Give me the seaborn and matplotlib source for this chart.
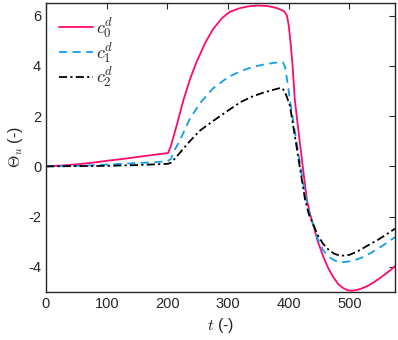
import matplotlib
matplotlib.use('Agg')
import matplotlib.pyplot as plt
import seaborn as sns

# values
t_c0 = [0, 25, 50, 75, 100, 125, 150, 175, 201, 205, 215, 226, 237, 248, 262, 275, 290, 303,
        320, 335, 348, 365, 380, 392, 397, 400, 403, 406, 410, 415, 420, 425, 430, 435, 440,
        448, 457, 465, 473, 482, 490, 497, 504, 512, 520, 530, 539, 550, 560, 568, 575]
y_c0 = [0, 0.03, 0.08, 0.14, 0.22, 0.29, 0.37, 0.45, 0.53, 0.75, 1.6, 2.6, 3.45, 4.15, 4.9, 5.45,
        5.9, 6.15, 6.3, 6.37, 6.4, 6.38, 6.3, 6.18, 6.0, 5.6, 4.9, 4.1, 2.63, 1.6, 0.6, -0.4,
        -1.35, -1.9, -2.3, -3.0, -3.6, -4.05, -4.4, -4.7, -4.85, -4.93, -4.95, -4.92, -4.86,
        -4.76, -4.63, -4.45, -4.27, -4.12, -3.97]

t_c1 = [0, 25, 50, 75, 100, 125, 150, 175, 200, 206, 212, 221, 237, 255, 275, 300, 320, 340,
        360, 380, 390, 394, 399, 402, 408, 414, 420, 424, 430, 435, 440, 448, 457, 466, 475,
        483, 490, 498, 507, 515, 523, 535, 545, 555, 565, 575]
y_c1 = [0, 0.005, 0.02, 0.04, 0.07, 0.1, 0.13, 0.16, 0.2, 0.3, 0.65, 1.05, 1.9, 2.55, 3.1, 3.55,
        3.78, 3.95, 4.06, 4.13, 4.15, 3.95, 3.15, 2.6, 1.7, 0.8, -0.1, -0.7, -1.45, -1.95, -2.3,
        -2.9, -3.35, -3.6, -3.74, -3.8, -3.81, -3.79, -3.74, -3.68, -3.6, -3.45, -3.3, -3.15,
        -2.98, -2.82]

t_c2 = [0, 50, 100, 150, 200, 205, 212, 221, 235, 254, 275, 300, 320, 340, 360, 380, 388, 393,
        397, 402, 408, 414, 420, 427, 433, 440, 448, 457, 466, 475, 484, 492, 500, 512, 525,
        535, 545, 555, 565, 575]
y_c2 = [0, 0.01, 0.02, 0.05, 0.1, 0.13, 0.3, 0.55, 0.95, 1.43, 1.8, 2.22, 2.55, 2.78, 2.95, 3.08,
        3.13, 3.0, 2.75, 2.4, 1.5, 0.6, -0.3, -1.35, -1.9, -2.3, -2.75, -3.1, -3.33, -3.48,
        -3.55, -3.55, -3.52, -3.4, -3.22, -3.08, -2.95, -2.8, -2.64, -2.48]

labels = ['$c_0^d$', '$c_1^d$', '$c_2^d$']

sns.set_style('white')
plt.rcParams['font.family'] = ['Liberation Sans', 'DejaVu Sans']
plt.rcParams['mathtext.fontset'] = 'cm'
plt.rcParams['axes.unicode_minus'] = False

fig = plt.figure(figsize=(3.98, 3.4), dpi=100)
ax = fig.add_axes([46 / 398, 1 - 292 / 340, 349 / 398, 289 / 340])

sns.lineplot(x=t_c0, y=y_c0, ax=ax, color='#ff0a6c', lw=1.3, label=labels[0])
sns.lineplot(x=t_c1, y=y_c1, ax=ax, color='#129cf2', lw=1.3, label=labels[1])
sns.lineplot(x=t_c2, y=y_c2, ax=ax, color='black', lw=1.3, label=labels[2])
ax.lines[1].set_dashes((4.5, 3))
ax.lines[2].set_dashes((4.5, 1.8, 1.2, 1.8))

ax.set_xlim(0, 575)
ax.set_ylim(-5, 6.5)
ax.set_xticks([0, 100, 200, 300, 400, 500])
ax.set_yticks([-4, -2, 0, 2, 4, 6])
ax.tick_params(direction='in', length=4, width=0.8, labelsize=10.5, colors='#262626',
               top=True, right=True)
for s in ax.spines.values():
    s.set_color('#262626')
    s.set_linewidth(1.0)

ax.set_xlabel('$t$ (-)', fontsize=11.5, labelpad=4)
ax.set_ylabel(r'$\Theta_u$ (-)', fontsize=11.5, labelpad=2)

leg = ax.legend(loc='upper left', frameon=False, fontsize=13, handlelength=1.9,
                labelspacing=0.0, borderaxespad=0.2, borderpad=0.5, handletextpad=0.15)
for h in leg.get_lines():
    h.set_linewidth(1.3)

fig.savefig('out.png', dpi=100)
